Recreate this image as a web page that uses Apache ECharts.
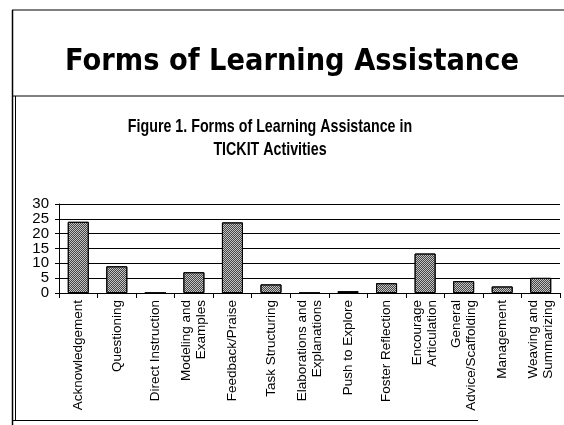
<!DOCTYPE html>
<html>
<head>
<meta charset="utf-8">
<script src="https://cdn.jsdelivr.net/npm/echarts@6/dist/echarts.min.js"></script>
<style>
  html, body { margin: 0; padding: 0; background: #fff; }
  #chart { width: 564px; height: 425px; }
</style>
</head>
<body>
<div id="chart"></div>
<script>
// Slide heading and figure caption
const slideTitle = 'Forms of Learning Assistance';
const figureTitle = 'Figure 1. Forms of Learning Assistance in\nTICKIT Activities';

// Forms of assistance (x categories)
const categories = [
  'Acknowledgement',
  'Questioning',
  'Direct Instruction',
  'Modeling and\nExamples',
  'Feedback/Praise',
  'Task Structuring',
  'Elaborations and\nExplanations',
  'Push to Explore',
  'Foster Reflection',
  'Encourage\nArticulation',
  'General\nAdvice/Scaffolding',
  'Management',
  'Weaving and\nSummarizing'
];

// Frequency of each form
const values = [24, 9, 0, 7, 23.8, 2.9, 0, 0.6, 3.3, 13.3, 4, 2.2, 5.1];

// Value axis range
const yMin = 0;
const yMax = 30;
const yStep = 5;

const chart = echarts.init(document.getElementById('chart'), null, { renderer: 'canvas' });

const ink = '#000';

chart.setOption({
  backgroundColor: '#fff',
  animation: false,
  grid: { left: 59, top: 204, width: 501, height: 89, containLabel: false },
  xAxis: {
    type: 'category',
    data: categories,
    boundaryGap: true,
    axisLine: { show: true, lineStyle: { color: ink, width: 1 } },
    axisTick: { show: true, length: 5, inside: false, lineStyle: { color: ink } },
    axisLabel: {
      rotate: 90,
      interval: 0,
      margin: 7,
      color: ink,
      fontFamily: 'Liberation Sans, Arial, sans-serif',
      fontSize: 13.5,
      lineHeight: 15
    },
    splitLine: { show: false }
  },
  yAxis: {
    type: 'value',
    min: yMin,
    max: yMax,
    interval: yStep,
    axisLine: { show: true, lineStyle: { color: ink, width: 1 } },
    axisTick: { show: true, length: 4, lineStyle: { color: ink } },
    axisLabel: {
      color: ink,
      margin: 10,
      showMinLabel: true,
      showMaxLabel: true,
      fontFamily: 'Liberation Sans, Arial, sans-serif',
      fontSize: 15
    },
    splitLine: { show: true, lineStyle: { color: ink, width: 1 } }
  },
  series: [{
    type: 'bar',
    data: values,
    barWidth: 21,
    itemStyle: {
      color: '#c4c4c4',
      borderColor: ink,
      borderWidth: 1,
      decal: {
        symbol: 'rect',
        symbolSize: 1,
        dashArrayX: [[1, 1], [0, 1, 1, 0]],
        dashArrayY: [1, 0],
        color: '#444'
      }
    }
  }],
  graphic: [
    // slide frame
    { type: 'line', shape: { x1: 12, y1: 10, x2: 564, y2: 10 }, style: { stroke: ink, lineWidth: 1 } },
    { type: 'line', shape: { x1: 12.5, y1: 10, x2: 12.5, y2: 425 }, style: { stroke: ink, lineWidth: 1.5 } },
    // figure frame
    { type: 'line', shape: { x1: 12, y1: 96, x2: 564, y2: 96 }, style: { stroke: ink, lineWidth: 1 } },
    { type: 'line', shape: { x1: 15.5, y1: 96, x2: 15.5, y2: 421 }, style: { stroke: ink, lineWidth: 1 } },
    { type: 'line', shape: { x1: 12, y1: 420.5, x2: 478, y2: 420.5 }, style: { stroke: ink, lineWidth: 1 } },
    // headings (narrowed horizontally to the slide's condensed lettering)
    {
      type: 'text', x: 292, y: 62, scaleX: 0.91,
      style: {
        text: slideTitle,
        fill: ink,
        font: 'bold 30px "DejaVu Sans", Verdana, sans-serif',
        textAlign: 'center',
        textVerticalAlign: 'middle'
      }
    },
    {
      type: 'text', x: 270, y: 138, scaleX: 0.75,
      style: {
        text: figureTitle,
        fill: ink,
        font: 'bold 19px "Liberation Sans", Arial, sans-serif',
        lineHeight: 23,
        textAlign: 'center',
        textVerticalAlign: 'middle'
      }
    }
  ]
});
</script>
</body>
</html>
